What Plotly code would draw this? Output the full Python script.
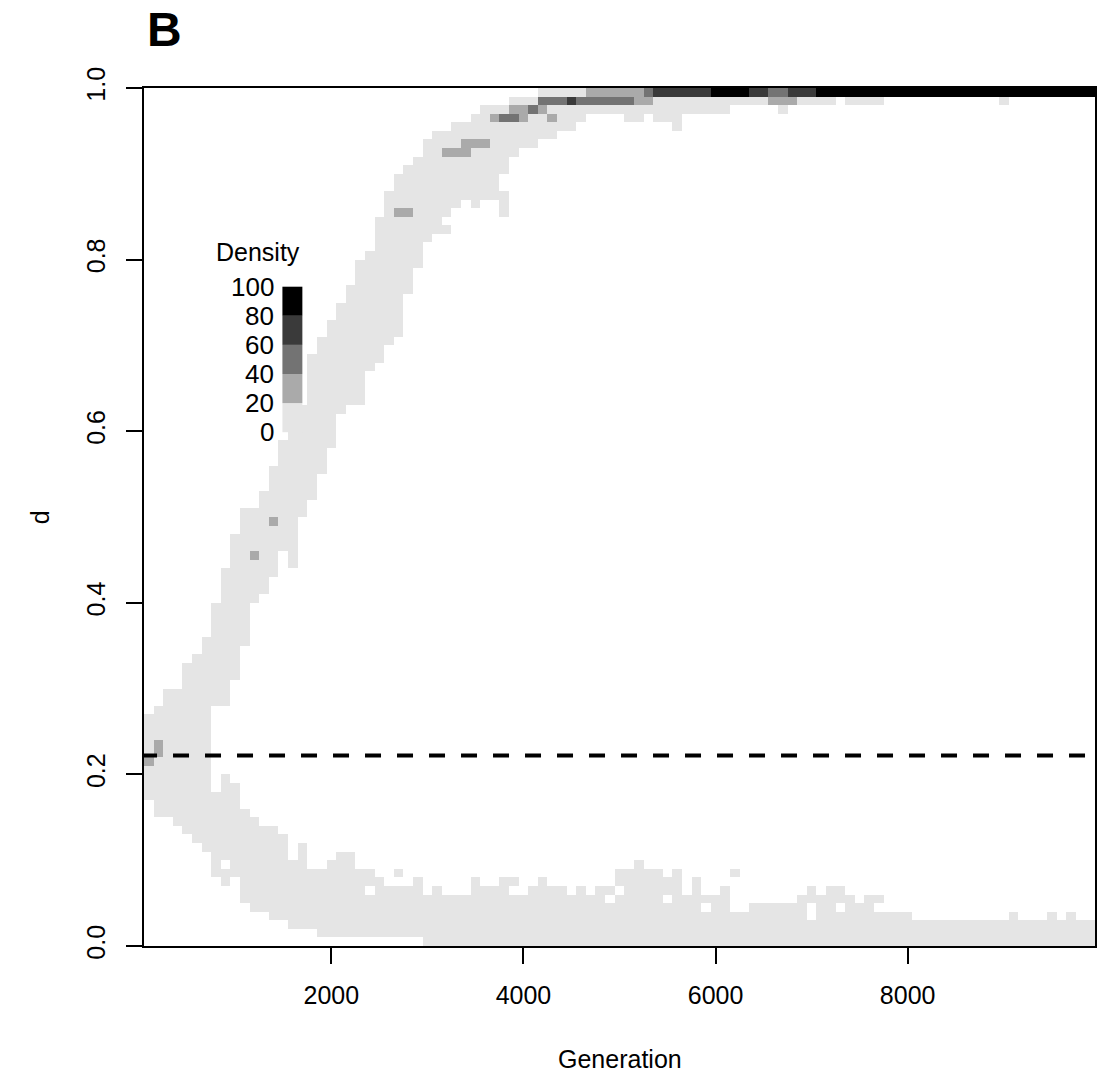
import numpy as np
import plotly.graph_objects as go

# ---------------- data ----------------
# generation bins (cell centres) and d bins (lower edges, step 0.01)
generations = list(range(100, 10000, 100))          # 99 columns
d_bins = [round(i / 100, 2) for i in range(100)]     # 100 rows

# lower branch: first / last occupied d-bin index per generation column
lower_lo = [17, 15, 15, 14, 13, 12, 11, 8, 7, 8,
            5, 4, 4, 3, 3, 2, 2, 2, 1, 1,
            1, 1, 1, 1, 1, 1, 1, 1, 1, 0,
            0, 0, 0, 0, 0, 0, 0, 0, 0, 0,
            0, 0, 0, 0, 0, 0, 0, 0, 0, 0,
            0, 0, 0, 0, 0, 0, 0, 0, 0, 0,
            0, 0, 0, 0, 0, 0, 0, 0, 0, 0,
            0, 0, 0, 0, 0, 0, 0, 0, 0, 0,
            0, 0, 0, 0, 0, 0, 0, 0, 0, 0,
            0, 0, 0, 0, 0, 0, 0, 0, 0]
lower_hi = [26, 27, 29, 29, 32, 33, 35, 17, 19, 18,
            15, 14, 13, 13, 12, 9, 11, 8, 8, 9,
            10, 10, 8, 8, 7, 6, 6, 6, 7, 5,
            6, 5, 5, 5, 7, 6, 6, 7, 7, 5,
            6, 7, 6, 6, 5, 6, 5, 6, 6, 8,
            8, 9, 8, 8, 7, 8, 5, 7, 5, 5,
            6, 3, 3, 4, 4, 4, 4, 4, 5, 6,
            5, 6, 6, 5, 4, 5, 5, 3, 3, 3,
            2, 2, 2, 2, 2, 2, 2, 2, 2, 2,
            3, 2, 2, 2, 3, 2, 3, 2, 2]

# upper branch (None where merged with lower branch)
upper_lo = [None] * 7 + [
    28, 28, 31,
    35, 40, 41, 43, 46, 44, 50, 52, 55, 58,
    62, 63, 63, 67, 68, 70, 71, 76, 79, 82,
    83, 83, 86, 87, 86, 87, 87, 85, 92, 93,
    93, 94, 94, 95, 95, 96, 97, 97, 97, 97,
    96, 96, 97, 96, 96, 95, 97, 97, 97, 97,
    97, 98, 98, 98, 98, 98, 97, 98, 98, 98,
    98, 98, 99, 98, 98, 98, 98, 99, 99, 99,
    99, 99, 99, 99, 99, 99, 99, 99, 99, 98,
    99, 99, 99, 99, 99, 99, 99, 99, 99]
upper_hi = [None] * 7 + [
    39, 43, 47,
    50, 50, 52, 55, 58, 62, 62, 68, 70, 72,
    74, 76, 79, 80, 84, 87, 89, 90, 91, 93,
    94, 94, 95, 95, 96, 97, 97, 97, 98, 98,
    98] + [99] * 58

# empty cells inside the bands: (generation, d-bin index)
holes = [(900, 9), (2400, 6), (3900, 6), (4900, 5), (5000, 6), (5500, 5),
         (5900, 4), (7000, 3), (7000, 4), (7300, 4), (7700, 4),
         (3200, 84), (3800, 88), (3800, 89)]
# isolated occupied cells
extra_cells = [(2700, 8), (6200, 8)]

# cells with higher density: (generation, d-bin index, density)
dense_cells = [
    (100, 21, 30), (200, 22, 30), (200, 23, 30), (1200, 45, 30), (1400, 49, 30),
    (2700, 85, 30), (2800, 85, 30), (3200, 92, 30), (3300, 92, 30), (3400, 92, 30),
    (3400, 93, 30), (3500, 93, 30), (3600, 93, 30),
    (3700, 96, 30), (3800, 96, 50), (3900, 96, 50), (4000, 96, 30), (4300, 96, 30),
    (3900, 97, 30), (4000, 97, 30), (4100, 97, 50), (4200, 97, 30),
    (4200, 98, 50), (4300, 98, 50), (4400, 98, 50), (4500, 98, 70),
    (4600, 98, 50), (4700, 98, 50), (4800, 98, 50), (4900, 98, 50), (5000, 98, 50),
    (5100, 98, 50), (5200, 98, 30), (5300, 98, 30),
    (6600, 98, 30), (6700, 98, 30), (6800, 98, 30),
    (4700, 99, 30), (4800, 99, 30), (4900, 99, 30), (5000, 99, 30), (5100, 99, 30),
    (5200, 99, 30), (5300, 99, 50), (5400, 99, 70), (5500, 99, 70), (5600, 99, 70),
    (5700, 99, 70), (5800, 99, 70), (5900, 99, 70), (6000, 99, 90), (6100, 99, 90),
    (6200, 99, 90), (6300, 99, 90), (6400, 99, 70), (6500, 99, 70), (6600, 99, 50),
    (6700, 99, 50), (6800, 99, 70), (6900, 99, 70), (7000, 99, 70),
] + [(g, 99, 90) for g in range(7100, 10000, 100)]

base_density = 10          # light-grey class (0-20)
threshold_d = 0.222        # dashed reference line

legend_breaks = [0, 20, 40, 60, 80, 100]
level_colors = ["#E5E5E5", "#AAAAAA", "#737373", "#3A3A3A", "#000000"]

# ---------------- build matrix ----------------
z = np.full((len(d_bins), len(generations)), np.nan)
for c in range(len(generations)):
    z[lower_lo[c]:lower_hi[c] + 1, c] = base_density
    if upper_lo[c] is not None:
        z[upper_lo[c]:upper_hi[c] + 1, c] = base_density
gidx = {g: i for i, g in enumerate(generations)}
for g, r in holes:
    z[r, gidx[g]] = np.nan
for g, r in extra_cells:
    z[r, gidx[g]] = base_density
for g, r, v in dense_cells:
    z[r, gidx[g]] = v

y_centres = [b + 0.005 for b in d_bins]

colorscale = []
for i, col in enumerate(level_colors):
    colorscale.append([legend_breaks[i] / 100, col])
    colorscale.append([legend_breaks[i + 1] / 100, col])

FONT = "Liberation Sans, Arial, Helvetica, sans-serif"

fig = go.Figure()
fig.add_trace(go.Heatmap(
    x=generations, y=y_centres, z=z,
    zmin=0, zmax=100, colorscale=colorscale, showscale=False,
    hoverongaps=False, zsmooth=False,
))

# dashed reference line
fig.add_shape(type="line", xref="x", yref="y",
              x0=19, x1=9950, y0=threshold_d, y1=threshold_d,
              line=dict(color="black", width=4, dash="16px,16px"), layer="above")

# ---------------- density key ----------------
W, H = 1098, 1076
ML, MR, MT, MB = 144, 1, 88, 130
pw, ph = W - ML - MR, H - MT - MB

def px_x(x):
    return (x - ML) / pw

def px_y(y):
    return (H - MB - y) / ph

key_top, key_step = 286.7, 29.1
key_x0, key_x1 = 282.7, 302.7
for i, col in enumerate(level_colors):
    y_hi = key_top + (len(level_colors) - 1 - i) * key_step
    fig.add_shape(type="rect", xref="paper", yref="paper",
                  x0=px_x(key_x0), x1=px_x(key_x1),
                  y0=px_y(y_hi + key_step), y1=px_y(y_hi),
                  fillcolor=col, line=dict(width=0), layer="above")
for i, lab in enumerate(legend_breaks):
    yy = key_top + (len(legend_breaks) - 1 - i) * key_step
    fig.add_annotation(x=px_x(276), y=px_y(yy), xref="paper", yref="paper",
                       text=str(lab), showarrow=False, xanchor="right", yanchor="middle",
                       font=dict(family=FONT, size=26, color="black"))
fig.add_annotation(x=px_x(258), y=px_y(252), xref="paper", yref="paper",
                   text="Density", showarrow=False, xanchor="center", yanchor="middle",
                   font=dict(family=FONT, size=25, color="black"))

# titles
fig.add_annotation(x=px_x(145), y=px_y(30), xref="paper", yref="paper",
                   text="<b>B</b>", showarrow=False, xanchor="left", yanchor="middle",
                   font=dict(family=FONT, size=48, color="black"))
fig.add_annotation(x=0.5, y=px_y(1059), xref="paper", yref="paper",
                   text="Generation", showarrow=False, xanchor="center", yanchor="middle",
                   font=dict(family=FONT, size=25, color="black"))
fig.add_annotation(x=px_x(40), y=0.5, xref="paper", yref="paper",
                   text="d", showarrow=False, textangle=-90, xanchor="center", yanchor="middle",
                   font=dict(family=FONT, size=25, color="black"))

axis_common = dict(showgrid=False, zeroline=False, showline=True, linecolor="black",
                   linewidth=2, mirror=True, ticks="outside", ticklen=16, tickwidth=1.5,
                   tickcolor="black", tickfont=dict(family=FONT, size=25, color="black"))

fig.update_layout(
    width=W, height=H,
    margin=dict(l=ML, r=MR, t=MT, b=MB, pad=0),
    paper_bgcolor="white", plot_bgcolor="white",
    showlegend=False,
    xaxis=dict(range=[50, 9950], tickvals=[2000, 4000, 6000, 8000],
               ticklabelstandoff=10, **axis_common),
    yaxis=dict(range=[0, 1], tickvals=[0, 0.2, 0.4, 0.6, 0.8, 1.0],
               ticktext=["0.0", "0.2", "0.4", "0.6", "0.8", "1.0"], tickangle=-90,
               ticklabelstandoff=11, **axis_common),
)

fig.write_html("out.html")
